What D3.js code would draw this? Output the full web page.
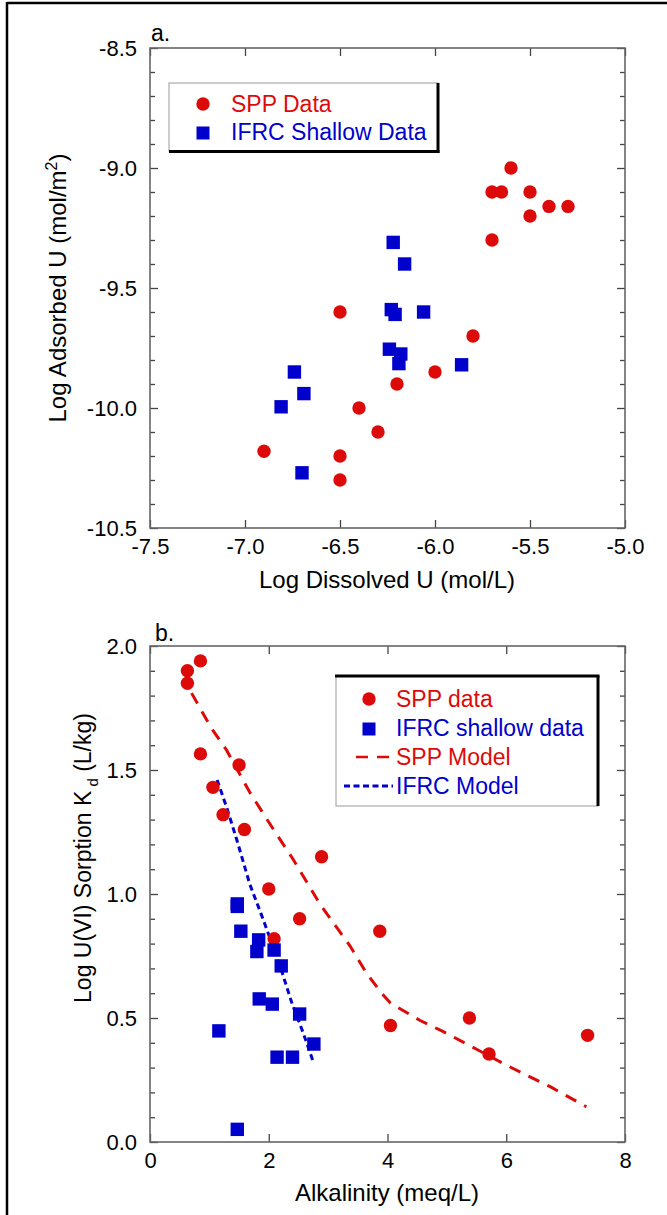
<!DOCTYPE html>
<html><head><meta charset="utf-8">
<script src="https://cdn.jsdelivr.net/npm/d3@7"></script>
<style>
body{margin:0;background:#fff}
svg{display:block}
text{font-family:"Liberation Sans",Arial,Helvetica,sans-serif}
</style></head>
<body><svg id="c" width="667" height="1215"></svg>
<script>
// ---------- Panel a data ----------
const sppA_dissolved = [-5.6,-5.7,-5.65,-5.5,-5.4,-5.3,-5.5,-5.7,-6.5,-5.8,-6.0,-6.2,-6.4,-6.3,-6.9,-6.5,-6.5];
const sppA_adsorbed  = [-9.0,-9.1,-9.1,-9.1,-9.16,-9.16,-9.2,-9.3,-9.6,-9.7,-9.85,-9.9,-10.0,-10.1,-10.18,-10.2,-10.3];
const ifrcA_dissolved = [-6.22,-6.16,-6.23,-6.21,-6.06,-6.24,-6.18,-6.19,-5.86,-6.74,-6.69,-6.81,-6.70];
const ifrcA_adsorbed  = [-9.31,-9.40,-9.59,-9.61,-9.60,-9.755,-9.775,-9.815,-9.82,-9.85,-9.94,-9.995,-10.27];
const xTicksA = [-7.5,-7.0,-6.5,-6.0,-5.5,-5.0];
const yTicksA = [-10.5,-10.0,-9.5,-9.0,-8.5];
const yMinorA = [-10.4,-10.3,-10.2,-10.1,-9.9,-9.8,-9.7,-9.6,-9.4,-9.3,-9.2,-9.1,-8.9,-8.8,-8.7,-8.6];

// ---------- Panel b data ----------
const sppB_alk = [0.85,0.63,0.63,0.85,1.50,1.06,1.23,1.59,2.89,2.0,2.52,2.09,3.87,4.05,5.38,5.71,7.37];
const sppB_kd  = [1.94,1.90,1.85,1.565,1.52,1.43,1.32,1.26,1.15,1.02,0.90,0.82,0.85,0.47,0.50,0.355,0.43];
const ifrcB_alk = [1.47,1.47,1.53,1.83,1.80,2.09,2.21,1.84,2.06,2.52,1.16,2.76,2.14,2.40,1.47];
const ifrcB_kd  = [0.96,0.95,0.85,0.815,0.768,0.774,0.71,0.577,0.556,0.516,0.448,0.395,0.342,0.342,0.051];
const sppModel_alk = [0.70,1.03,1.29,1.68,2.08,2.41,2.86,3.37,3.65,3.90,4.05,4.55,4.94,5.50,6.00,6.74,7.35];
const sppModel_kd  = [1.81,1.67,1.58,1.41,1.26,1.14,0.96,0.79,0.68,0.60,0.56,0.49,0.445,0.374,0.31,0.223,0.142];
const ifrcModel_alk = [1.13,1.29,1.46,1.68,1.91,2.19,2.39,2.58,2.74];
const ifrcModel_kd  = [1.46,1.35,1.22,1.04,0.895,0.71,0.56,0.44,0.33];
const xTicksB = [0,2,4,6,8];
const yTicksB = [0.0,0.5,1.0,1.5,2.0];
const yMinorB = [0.1,0.2,0.3,0.4,0.6,0.7,0.8,0.9,1.1,1.2,1.3,1.4,1.6,1.7,1.8,1.9];

const RED = "#dd0a0a", BLUE = "#0000cc", AXIS = "#666";
const svg = d3.select("#c");

// outer frame (top and left)
svg.append("line").attr("x1",7).attr("x2",667).attr("y1",3).attr("y2",3).attr("stroke","#000").attr("stroke-width",2.5);
svg.append("line").attr("x1",7).attr("x2",7).attr("y1",2).attr("y2",1215).attr("stroke","#000").attr("stroke-width",2.5);

const xa = d3.scaleLinear().domain([-7.5,-5]).range([150,625]);
const ya = d3.scaleLinear().domain([-10.5,-8.5]).range([528,48]);
const xb = d3.scaleLinear().domain([0,8]).range([150,625]);
const yb = d3.scaleLinear().domain([0,2]).range([1142,646]);

const fmt = d => d.toFixed(1);
const TICKFS = 22;

function frame(x, y, xT, xFmt, yT, yMinor){
  const [x0,x1] = x.range(), [y0,y1] = [y.range()[1], y.range()[0]];
  const g = svg.append("g");
  g.append("g").attr("transform",`translate(0,${y1})`)
    .call(d3.axisBottom(x).tickValues(xT).tickSize(-8).tickSizeOuter(0).tickPadding(10).tickFormat(xFmt));
  g.append("g").attr("transform",`translate(0,${y0})`)
    .call(d3.axisTop(x).tickValues(xT).tickSize(-8).tickSizeOuter(0).tickFormat(""));
  g.append("g").attr("transform",`translate(${x0},0)`)
    .call(d3.axisLeft(y).tickValues(yT).tickSize(-8).tickSizeOuter(0).tickPadding(13).tickFormat(fmt));
  g.append("g").attr("transform",`translate(${x0},0)`)
    .call(d3.axisLeft(y).tickValues(yMinor).tickSize(-5).tickSizeOuter(0).tickFormat(""));
  g.append("g").attr("transform",`translate(${x1},0)`)
    .call(d3.axisRight(y).tickValues(yT).tickSize(-8).tickSizeOuter(0).tickFormat(""));
  g.append("g").attr("transform",`translate(${x1},0)`)
    .call(d3.axisRight(y).tickValues(yMinor).tickSize(-5).tickSizeOuter(0).tickFormat(""));
  g.selectAll(".domain").remove();
  g.selectAll(".tick line").attr("stroke","#444").attr("stroke-width",1.3);
  g.selectAll(".tick text").attr("fill","#000").style("font-size",TICKFS+"px").style("font-family",'"Liberation Sans",Arial,sans-serif');
  g.append("rect").attr("x",x0).attr("y",y0).attr("width",x1-x0).attr("height",y1-y0)
    .attr("fill","none").attr("stroke",AXIS).attr("stroke-width",1.6);
}

// ---------- Panel a ----------
frame(xa, ya, xTicksA, fmt, yTicksA, yMinorA);
svg.append("text").attr("x",151).attr("y",41).style("font-size","23px").text("a.");
svg.append("text").attr("x",387).attr("y",588).attr("text-anchor","middle").style("font-size","24px").text("Log Dissolved U (mol/L)");
const ta = svg.append("text").attr("transform","translate(66,288) rotate(-90)").attr("text-anchor","middle").style("font-size","24px");
ta.append("tspan").text("Log Adsorbed U (mol/m");
ta.append("tspan").attr("dy",-9).style("font-size","16px").text("2");
ta.append("tspan").attr("dy",9).text(")");

// legend a
svg.append("rect").attr("x",169).attr("y",83).attr("width",269).attr("height",68).attr("fill","#fff").attr("stroke","#999").attr("stroke-width",1);
svg.append("line").attr("x1",438).attr("x2",438).attr("y1",83).attr("y2",153).attr("stroke","#000").attr("stroke-width",3);
svg.append("line").attr("x1",169).attr("x2",439.5).attr("y1",151.5).attr("y2",151.5).attr("stroke","#000").attr("stroke-width",3);
svg.append("circle").attr("cx",203).attr("cy",104).attr("r",6.7).attr("fill",RED);
svg.append("rect").attr("x",196.5).attr("y",126.5).attr("width",13).attr("height",13).attr("fill",BLUE);
svg.append("text").attr("x",231).attr("y",112).attr("fill",RED).style("font-size","23px").text("SPP Data");
svg.append("text").attr("x",231).attr("y",140).attr("fill",BLUE).style("font-size","23px").text("IFRC Shallow Data");

const ptsA_spp = sppA_dissolved.map((d,i)=>({x:d,y:sppA_adsorbed[i]}));
const ptsA_ifrc = ifrcA_dissolved.map((d,i)=>({x:d,y:ifrcA_adsorbed[i]}));
svg.append("g").selectAll("circle").data(ptsA_spp).join("circle")
  .attr("cx",d=>xa(d.x)).attr("cy",d=>ya(d.y)).attr("r",6.7).attr("fill",RED);
svg.append("g").selectAll("rect").data(ptsA_ifrc).join("rect")
  .attr("x",d=>xa(d.x)-6.7).attr("y",d=>ya(d.y)-6.7).attr("width",13.4).attr("height",13.4).attr("fill",BLUE);

// ---------- Panel b ----------
frame(xb, yb, xTicksB, d=>String(d), yTicksB, yMinorB);
svg.append("text").attr("x",155).attr("y",641).style("font-size","23px").text("b.");
svg.append("text").attr("x",387).attr("y",1201).attr("text-anchor","middle").style("font-size","24px").text("Alkalinity (meq/L)");
const tb = svg.append("text").attr("transform","translate(91,858) rotate(-90)").attr("text-anchor","middle").style("font-size","23px");
tb.append("tspan").text("Log U(VI) Sorption K");
tb.append("tspan").attr("dy",7).style("font-size","15px").text(" d");
tb.append("tspan").attr("dy",-7).text("  (L/kg)");

// model lines
const lineB = d3.line().x(d=>xb(d.x)).y(d=>yb(d.y));
svg.append("path").datum(sppModel_alk.map((d,i)=>({x:d,y:sppModel_kd[i]})))
  .attr("d",lineB).attr("fill","none").attr("stroke",RED).attr("stroke-width",3).attr("stroke-dasharray","12,9");
svg.append("path").datum(ifrcModel_alk.map((d,i)=>({x:d,y:ifrcModel_kd[i]})))
  .attr("d",lineB).attr("fill","none").attr("stroke",BLUE).attr("stroke-width",3).attr("stroke-dasharray","6,4");

const ptsB_spp = sppB_alk.map((d,i)=>({x:d,y:sppB_kd[i]}));
const ptsB_ifrc = ifrcB_alk.map((d,i)=>({x:d,y:ifrcB_kd[i]}));
svg.append("g").selectAll("circle").data(ptsB_spp).join("circle")
  .attr("cx",d=>xb(d.x)).attr("cy",d=>yb(d.y)).attr("r",6.7).attr("fill",RED);
svg.append("g").selectAll("rect").data(ptsB_ifrc).join("rect")
  .attr("x",d=>xb(d.x)-6.7).attr("y",d=>yb(d.y)-6.7).attr("width",13.4).attr("height",13.4).attr("fill",BLUE);

// legend b
svg.append("rect").attr("x",336).attr("y",676).attr("width",262).attr("height",130).attr("fill","#fff").attr("stroke","#999").attr("stroke-width",1);
svg.append("line").attr("x1",335).attr("x2",599.5).attr("y1",676).attr("y2",676).attr("stroke","#000").attr("stroke-width",3);
svg.append("line").attr("x1",598).attr("x2",598).attr("y1",676).attr("y2",806).attr("stroke","#000").attr("stroke-width",3);
svg.append("circle").attr("cx",369).attr("cy",699).attr("r",6.7).attr("fill",RED);
svg.append("rect").attr("x",362.5).attr("y",722.5).attr("width",13).attr("height",13).attr("fill",BLUE);
svg.append("line").attr("x1",356).attr("x2",392).attr("y1",757).attr("y2",757).attr("stroke",RED).attr("stroke-width",2.5).attr("stroke-dasharray","12,9");
svg.append("line").attr("x1",344).attr("x2",393).attr("y1",786).attr("y2",786).attr("stroke",BLUE).attr("stroke-width",3).attr("stroke-dasharray","6,3.5");
const legB = [["SPP data",RED,707],["IFRC shallow data",BLUE,736],["SPP Model",RED,765],["IFRC Model",BLUE,794]];
legB.forEach(([t,c,y])=>svg.append("text").attr("x",396).attr("y",y).attr("fill",c).style("font-size","23px").text(t));
</script></body></html>
